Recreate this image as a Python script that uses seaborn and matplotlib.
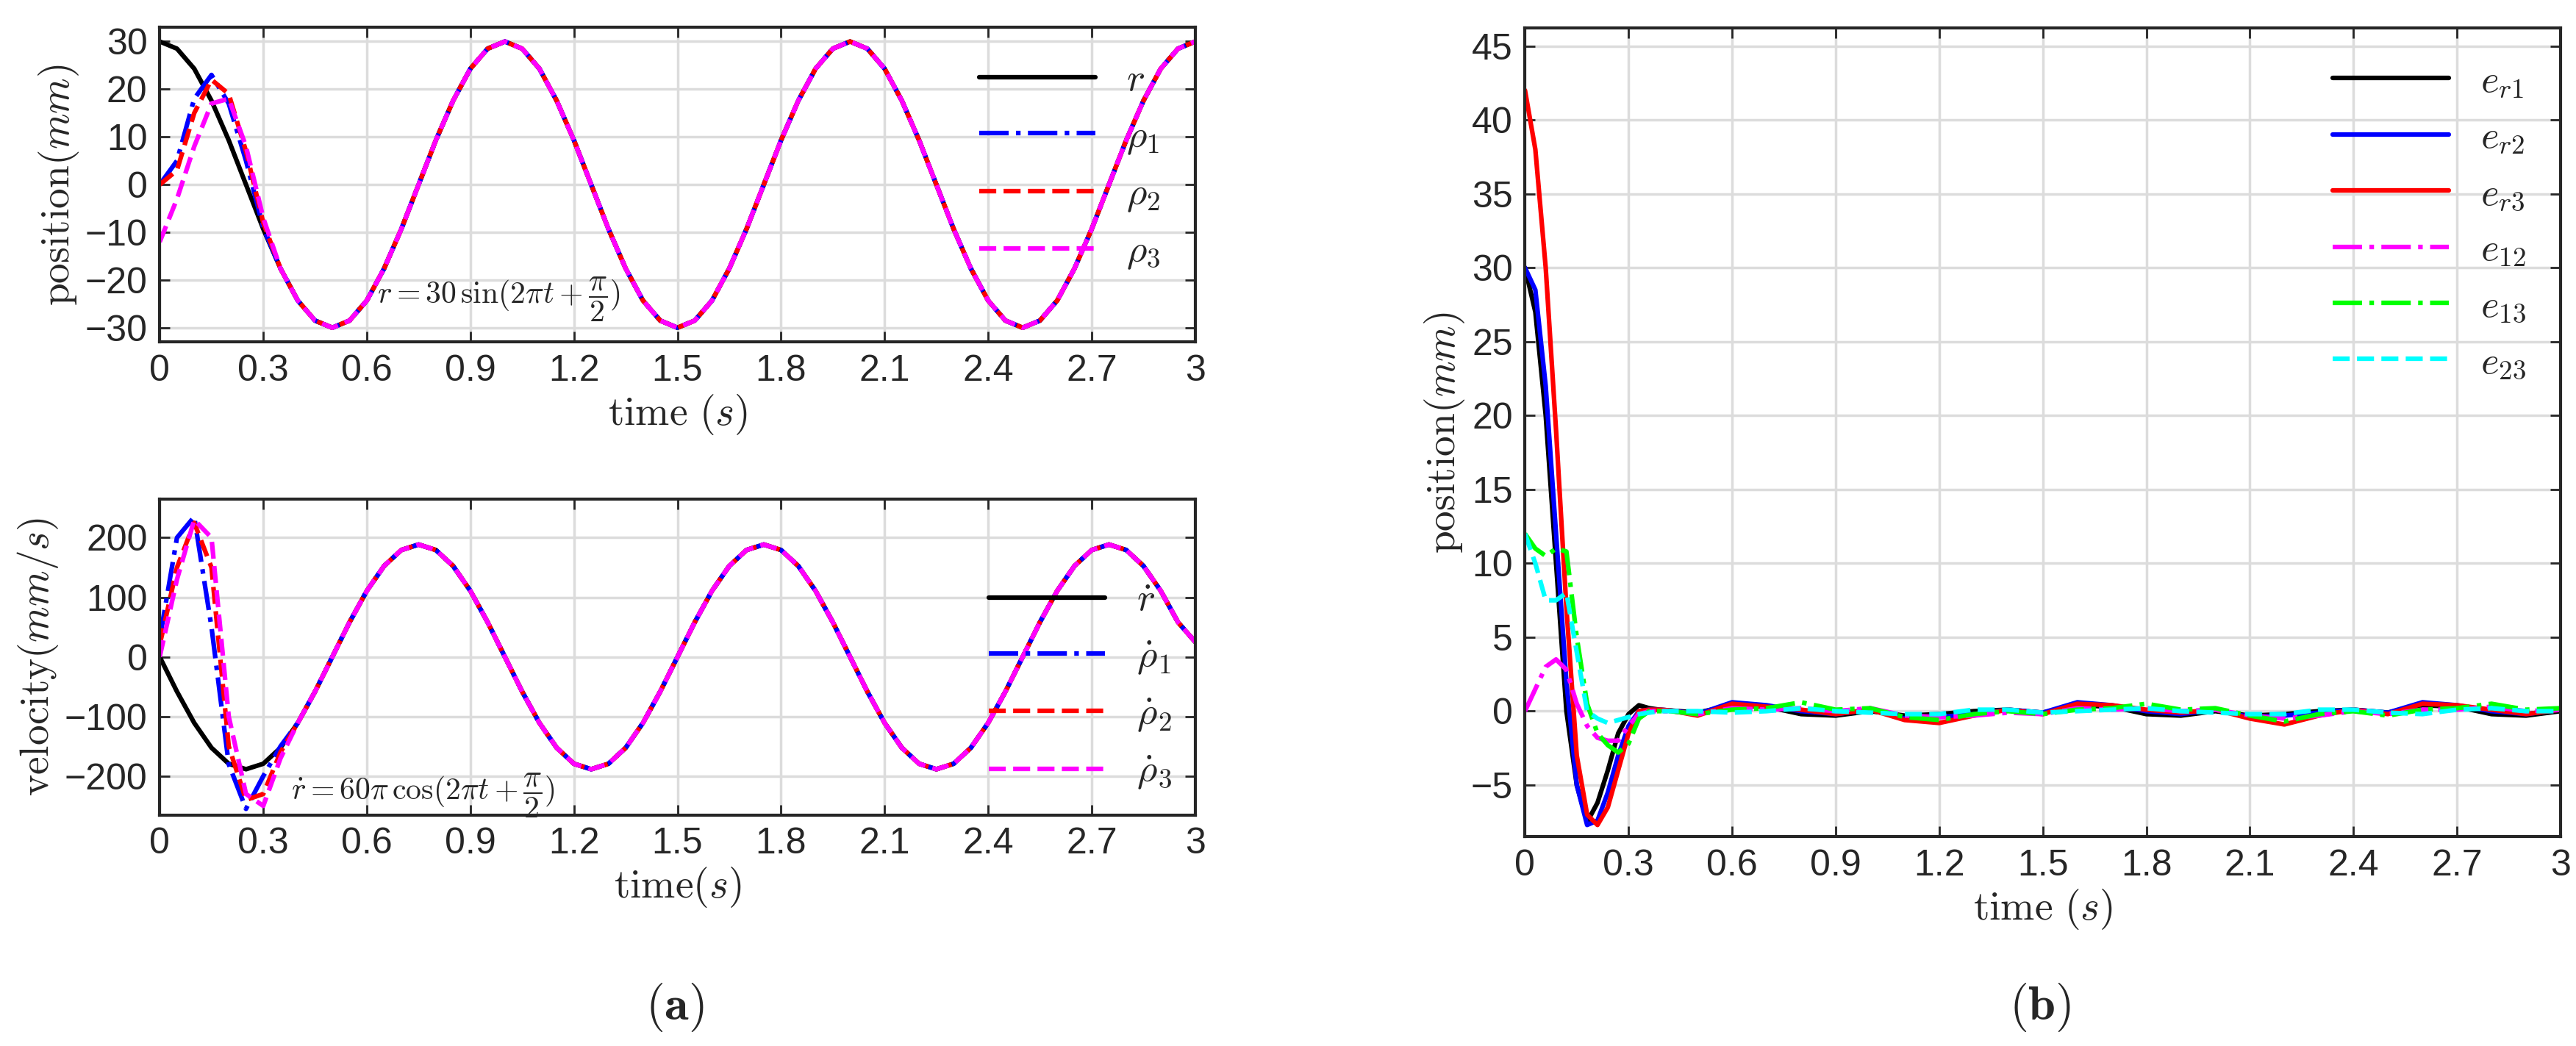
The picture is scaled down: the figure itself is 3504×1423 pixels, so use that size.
import numpy as np
import pandas as pd
import matplotlib
matplotlib.use("Agg")
import matplotlib.pyplot as plt
import seaborn as sns

sns.set_style("whitegrid", {"grid.color": "#dcdcdc", "axes.edgecolor": "#262626"})
plt.rcParams["mathtext.fontset"] = "cm"
plt.rcParams["font.family"] = "Liberation Sans"

# ---- data ----
t = [round(0.05 * i, 2) for i in range(61)]

r = [30, 28.5, 24.3, 17.6, 9.3, 0, -9.3, -17.6, -24.3, -28.5, -30, -28.5, -24.3, -17.6, -9.3, 0, 9.3, 17.6, 24.3, 28.5,
     30, 28.5, 24.3, 17.6, 9.3, 0, -9.3, -17.6, -24.3, -28.5, -30, -28.5, -24.3, -17.6, -9.3, 0, 9.3, 17.6, 24.3, 28.5,
     30, 28.5, 24.3, 17.6, 9.3, 0, -9.3, -17.6, -24.3, -28.5, -30, -28.5, -24.3, -17.6, -9.3, 0, 9.3, 17.6, 24.3, 28.5,
     30]
rho1_start = [0, 5, 18, 23, 17, 5, -9]
rho2_start = [0, 3, 15, 22, 19, 7, -8]
rho3_start = [-12, -3, 8, 17, 18, 8, -7]

rdot = [0, -58.2, -110.8, -152.5, -179.3, -188.5, -179.3, -152.5, -110.8, -58.2,
        0, 58.2, 110.8, 152.5, 179.3, 188.5, 179.3, 152.5, 110.8, 58.2,
        0, -58.2, -110.8, -152.5, -179.3, -188.5, -179.3, -152.5, -110.8, -58.2,
        0, 58.2, 110.8, 152.5, 179.3, 188.5, 179.3, 152.5, 110.8, 58.2,
        0, -58.2, -110.8, -152.5, -179.3, -188.5, -179.3, -152.5, -110.8, -58.2,
        0, 58.2, 110.8, 152.5, 179.3, 188.5, 179.3, 152.5, 110.8, 58.2,
        25]
rhodot1_start = [30, 200, 235, 50, -180, -255, -200, -150]
rhodot2_start = [20, 150, 225, 150, -150, -240, -230, -160]
rhodot3_start = [0, 130, 230, 200, -100, -230, -250, -170]

te = [0, 0.03, 0.06, 0.09, 0.12, 0.15, 0.18, 0.21, 0.24, 0.27, 0.30, 0.33, 0.36, 0.39, 0.42,
      0.5, 0.6, 0.7, 0.8, 0.9, 1.0, 1.1, 1.2, 1.3, 1.4, 1.5, 1.6, 1.7, 1.8, 1.9, 2.0,
      2.1, 2.2, 2.3, 2.4, 2.5, 2.6, 2.7, 2.8, 2.9, 3.0]
er1 = [30, 27, 20, 10, 0, -5, -7.5, -6.2, -4, -1.5, -0.2, 0.4, 0.2, 0.1, 0.05,
       -0.1, 0.4, 0.3, -0.2, -0.3, 0, -0.3, -0.2, 0, 0.1, -0.1, 0.4, 0.3, -0.2, -0.3, 0,
       -0.3, -0.2, 0, 0.1, -0.1, 0.4, 0.3, -0.2, -0.3, 0]
er2 = [30, 28.5, 22, 12, 2, -5, -7.7, -7.4, -5.5, -3, -1, 0, 0.1, 0.1, 0.05,
       -0.2, 0.6, 0.4, 0, -0.2, 0.1, -0.5, -0.4, -0.2, 0.1, -0.1, 0.6, 0.4, 0, -0.2, 0.1,
       -0.4, -0.3, -0.1, 0.1, -0.1, 0.6, 0.4, 0, -0.2, 0.1]
er3 = [42, 38, 30, 19, 7, -3, -7, -7.7, -6.5, -4, -1.5, 0, 0.1, 0.1, 0.05,
       -0.3, 0.5, 0.3, 0.1, -0.2, 0.1, -0.6, -0.8, -0.3, 0.1, -0.2, 0.5, 0.4, 0.1, -0.1, 0.1,
       -0.5, -0.9, -0.3, 0.1, -0.2, 0.5, 0.4, 0.1, -0.2, 0.1]
e12 = [0, 1.5, 3, 3.5, 2.8, 0.5, -1, -1.8, -2, -2, -1, -0.2, 0, 0, 0,
       -0.2, 0.2, 0.1, 0.2, 0, 0.2, -0.3, -0.4, -0.3, -0.1, -0.2, 0.2, 0.1, 0.2, 0, 0.1,
       -0.3, -0.5, -0.3, 0, -0.2, 0.1, 0.1, 0.3, 0, 0.1]
e13 = [12, 11, 10.5, 11, 10.8, 5, 0.5, -1.5, -2.3, -2.8, -2.2, -0.5, 0, 0, 0,
       -0.2, 0.1, 0.2, 0.6, 0.1, 0.2, -0.4, -0.6, -0.2, 0, -0.2, 0.1, 0.2, 0.5, 0.1, 0.2,
       -0.3, -0.7, -0.2, 0, -0.3, 0.1, 0.2, 0.5, 0.1, 0.2]
e23 = [12, 10, 7.5, 7.5, 8, 4, 0, -0.5, -0.8, -0.6, -0.4, -0.2, -0.1, 0, 0,
       0, -0.1, 0, 0.2, 0, -0.1, -0.2, -0.2, 0.1, 0.1, -0.1, 0, 0.1, 0.2, 0, -0.1,
       -0.2, -0.2, 0.1, 0.1, -0.1, -0.2, 0.1, 0.2, 0, 0]

rho1 = rho1_start + r[len(rho1_start):]
rho2 = rho2_start + r[len(rho2_start):]
rho3 = rho3_start + r[len(rho3_start):]
rhodot1 = rhodot1_start + rdot[len(rhodot1_start):]
rhodot2 = rhodot2_start + rdot[len(rhodot2_start):]
rhodot3 = rhodot3_start + rdot[len(rhodot3_start):]

xticks = [0, 0.3, 0.6, 0.9, 1.2, 1.5, 1.8, 2.1, 2.4, 2.7, 3]
xticklabels = ["0", "0.3", "0.6", "0.9", "1.2", "1.5", "1.8", "2.1", "2.4", "2.7", "3"]

fig = plt.figure(figsize=(35.04, 14.23), dpi=100)
ax1 = fig.add_axes([0.062, 0.673, 0.402, 0.301])
ax2 = fig.add_axes([0.062, 0.221, 0.402, 0.302])
ax3 = fig.add_axes([0.592, 0.200, 0.402, 0.773])

TICK = 36
LAB = 40
LEG = 38


def style(ax):
    ax.set_xlim(0, 3)
    ax.set_xticks(xticks)
    ax.set_xticklabels(xticklabels)
    ax.tick_params(labelsize=TICK, direction="in", length=10, width=2, pad=12,
                   bottom=True, left=True, top=True, right=True)
    for s in ax.spines.values():
        s.set_linewidth(3)
    ax.grid(True, lw=2.5)


lw = 4.5
sns.lineplot(x=t, y=r, ax=ax1, color="black", lw=lw, label="$r$")
sns.lineplot(x=t, y=rho1, ax=ax1, color="blue", lw=lw, ls="-.", label=r"$\rho_1$")
sns.lineplot(x=t, y=rho2, ax=ax1, color="red", lw=lw, ls="--", label=r"$\rho_2$")
sns.lineplot(x=t, y=rho3, ax=ax1, color="magenta", lw=lw, ls="--", label=r"$\rho_3$")
style(ax1)
ax1.set_ylim(-33, 33)
ax1.set_yticks([-30, -20, -10, 0, 10, 20, 30])
ax1.set_ylabel(r"$\mathrm{position}(mm)$", fontsize=LAB)
ax1.set_xlabel(r"$\mathrm{time}\ (s)$", fontsize=LAB)
ax1.text(0.63, -25, r"$r=30\,\sin(2\pi t+\dfrac{\pi}{2})$", fontsize=30)
ax1.legend(loc="upper right", fontsize=LEG, frameon=False, handlelength=3)

sns.lineplot(x=t, y=rdot, ax=ax2, color="black", lw=lw, label=r"$\dot{r}$")
sns.lineplot(x=t, y=rhodot1, ax=ax2, color="blue", lw=lw, ls="-.", label=r"$\dot{\rho}_1$")
sns.lineplot(x=t, y=rhodot2, ax=ax2, color="red", lw=lw, ls="--", label=r"$\dot{\rho}_2$")
sns.lineplot(x=t, y=rhodot3, ax=ax2, color="magenta", lw=lw, ls="--", label=r"$\dot{\rho}_3$")
style(ax2)
ax2.set_ylim(-265, 265)
ax2.set_yticks([-200, -100, 0, 100, 200])
ax2.set_ylabel(r"$\mathrm{velocity}(mm/s)$", fontsize=LAB)
ax2.set_xlabel(r"$\mathrm{time}(s)$", fontsize=LAB)
ax2.text(0.38, -240, r"$\dot{r}=60\pi\,\cos(2\pi t+\dfrac{\pi}{2})$", fontsize=30)
ax2.legend(loc="lower right", fontsize=LEG, frameon=False, handlelength=3, borderaxespad=0.2)

sns.lineplot(x=te, y=er1, ax=ax3, color="black", lw=lw, label=r"$e_{r1}$")
sns.lineplot(x=te, y=er2, ax=ax3, color="blue", lw=lw, label=r"$e_{r2}$")
sns.lineplot(x=te, y=er3, ax=ax3, color="red", lw=lw, label=r"$e_{r3}$")
sns.lineplot(x=te, y=e12, ax=ax3, color="magenta", lw=lw, ls="-.", label=r"$e_{12}$")
sns.lineplot(x=te, y=e13, ax=ax3, color="#00ff00", lw=lw, ls="-.", label=r"$e_{13}$")
sns.lineplot(x=te, y=e23, ax=ax3, color="cyan", lw=lw, ls="--", label=r"$e_{23}$")
style(ax3)
ax3.set_ylim(-8.5, 46.2)
ax3.set_yticks([-5, 0, 5, 10, 15, 20, 25, 30, 35, 40, 45])
ax3.set_ylabel(r"$\mathrm{position}(mm)$", fontsize=LAB)
ax3.set_xlabel(r"$\mathrm{time}\ (s)$", fontsize=LAB)
ax3.legend(loc="upper right", fontsize=LEG, frameon=False, handlelength=3)

fig.text(0.262, 0.037, r"$(\mathbf{a})$", fontsize=48, ha="center", va="center")
fig.text(0.792, 0.037, r"$(\mathbf{b})$", fontsize=48, ha="center", va="center")

fig.savefig("out.png", dpi=100, facecolor="white")
